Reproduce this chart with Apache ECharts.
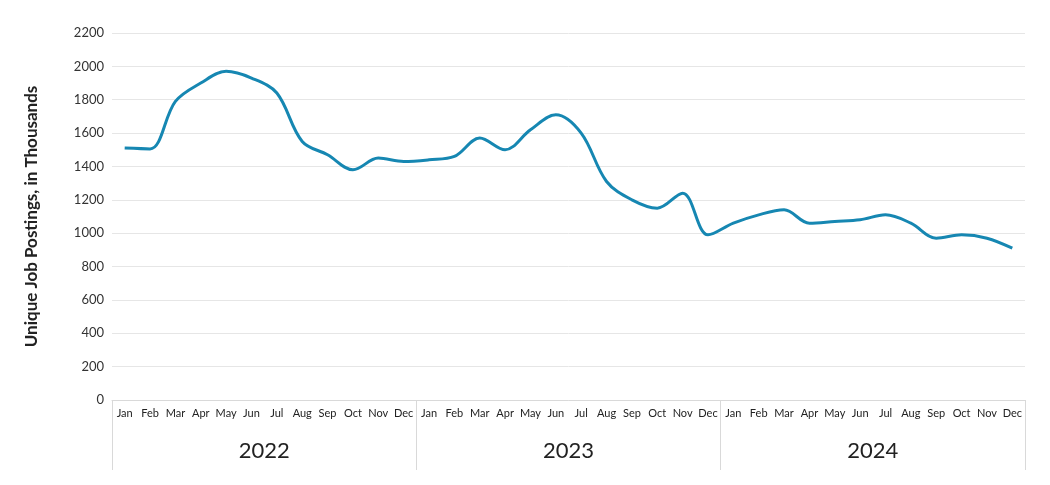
<!DOCTYPE html>
<html><head><meta charset="utf-8">
<script src="https://cdn.jsdelivr.net/npm/echarts@6/dist/echarts.min.js"></script>
<style>html,body{margin:0;background:#fff}#main{width:1050px;height:485px}</style>
</head><body><div id="main"></div>
<script>
const months = ['Jan','Feb','Mar','Apr','May','Jun','Jul','Aug','Sep','Oct','Nov','Dec'];
const years = ['2022', '2023', '2024'];
const postings = [
  1510, 1505, 1790, 1900, 1970, 1930, 1840, 1550, 1470, 1380, 1450, 1430,
  1440, 1460, 1570, 1500, 1620, 1710, 1600, 1310, 1200, 1150, 1240, 990,
  1060, 1110, 1140, 1060, 1070, 1080, 1110, 1060, 970, 990, 970, 910
];
const monthCats = [];
years.forEach(y => months.forEach(m => monthCats.push(m + ' ' + y)));

const myChart = echarts.init(document.getElementById('main'));
const font = 'Lato, "Open Sans", sans-serif';
myChart.setOption({
  animation: false,
  grid: { left: 112, right: 25, top: 33, bottom: 85 },
  xAxis: [
    {
      type: 'category', data: monthCats, position: 'bottom',
      axisLine: { lineStyle: { color: '#d9d9d9' } },
      axisTick: { show: false },
      axisLabel: { formatter: v => v.split(' ')[0], color: '#222', fontSize: 11, fontFamily: font, interval: 0 }
    },
    {
      type: 'category', data: years, position: 'bottom', offset: 0,
      axisLine: { show: false },
      axisTick: { show: true, length: 70, lineStyle: { color: '#d9d9d9' } },
      axisLabel: { color: '#222', fontSize: 22, fontFamily: font, margin: 40 }
    }
  ],
  yAxis: {
    type: 'value', min: 0, max: 2200, interval: 200,
    name: 'Unique Job Postings, in Thousands', nameLocation: 'middle', nameGap: 72,
    nameTextStyle: { fontSize: 17, fontWeight: 'bold', color: '#222', fontFamily: font },
    axisLabel: { color: '#333', fontSize: 13, fontFamily: font, formatter: v => String(v) },
    splitLine: { lineStyle: { color: '#e6e6e6' } }
  },
  series: [{
    type: 'line', data: postings, xAxisIndex: 0, smooth: 0.35, showSymbol: false,
    lineStyle: { color: '#1687b2', width: 3 }
  }]
});
</script></body></html>
